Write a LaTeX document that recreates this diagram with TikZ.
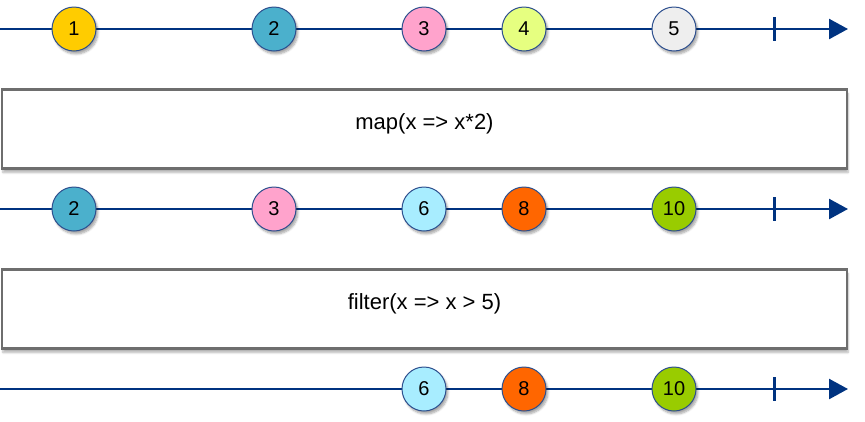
\documentclass[tikz,border=0pt]{standalone}
\usepackage{fontspec}
\setmainfont{Liberation Sans}
\usetikzlibrary{arrows.meta,shadows.blur}
\definecolor{navy}{HTML}{003380}
\definecolor{rim}{HTML}{2D4F8E}
\definecolor{cYellow}{HTML}{FFCC00}
\definecolor{cBlue}{HTML}{4BB0CC}
\definecolor{cPink}{HTML}{FFA3CC}
\definecolor{cLime}{HTML}{E6FF80}
\definecolor{cGray}{HTML}{EEEEEE}
\definecolor{cSky}{HTML}{A8EDFF}
\definecolor{cOrange}{HTML}{FF6600}
\definecolor{cOlive}{HTML}{99CC00}
\definecolor{boxrim}{HTML}{6E6E6E}
\tikzset{
  marble/.style={circle, draw=rim, line width=1pt, minimum size=44pt, inner sep=0pt,
    font=\fontsize{20}{20}\selectfont,
    blur shadow={shadow xshift=2pt, shadow yshift=-3pt, shadow blur steps=6, shadow opacity=35}},
  timeline/.style={draw=navy, line width=2.5pt, -{Triangle[length=19pt,width=20pt]}},
  endtick/.style={draw=navy, line width=3pt},
  opbox/.style={draw=boxrim, line width=2.5pt, fill=white, minimum width=845pt, minimum height=79pt,
    inner sep=0pt, font=\fontsize{22}{22}\selectfont, text height=12pt, text depth=12pt,
    blur shadow={shadow xshift=1pt, shadow yshift=-4pt, shadow blur steps=6, shadow opacity=30}}
}
\begin{document}
\begin{tikzpicture}[x=1pt,y=-1pt]
\useasboundingbox (0,0) rectangle (865,421);
% timeline 1
\coordinate (s1) at (0,29);
\coordinate (e1) at (848,29);
\coordinate (t1a) at (774,17);
\coordinate (t1b) at (774,41);
\draw[timeline] (s1) -- (e1);
\draw[endtick] (t1a) -- (t1b);
\node[marble, fill=cYellow] (a1) at (74,29) {1};
\node[marble, fill=cBlue] (a2) at (274,29) {2};
\node[marble, fill=cPink] (a3) at (424,29) {3};
\node[marble, fill=cLime] (a4) at (524,29) {4};
\node[marble, fill=cGray] (a5) at (674,29) {5};
% map box
\node[opbox] (map) at (424.5,129) {map(x => x*2)};
% timeline 2
\coordinate (s2) at (0,209);
\coordinate (e2) at (848,209);
\coordinate (t2a) at (774,197);
\coordinate (t2b) at (774,221);
\draw[timeline] (s2) -- (e2);
\draw[endtick] (t2a) -- (t2b);
\node[marble, fill=cBlue] (b1) at (74,209) {2};
\node[marble, fill=cPink] (b2) at (274,209) {3};
\node[marble, fill=cSky] (b3) at (424,209) {6};
\node[marble, fill=cOrange] (b4) at (524,209) {8};
\node[marble, fill=cOlive] (b5) at (674,209) {10};
% filter box
\node[opbox] (filter) at (424.5,309) {filter(x => x > 5)};
% timeline 3
\coordinate (s3) at (0,389);
\coordinate (e3) at (848,389);
\coordinate (t3a) at (774,377);
\coordinate (t3b) at (774,401);
\draw[timeline] (s3) -- (e3);
\draw[endtick] (t3a) -- (t3b);
\node[marble, fill=cSky] (c1) at (424,389) {6};
\node[marble, fill=cOrange] (c2) at (524,389) {8};
\node[marble, fill=cOlive] (c3) at (674,389) {10};
\end{tikzpicture}
\end{document}
